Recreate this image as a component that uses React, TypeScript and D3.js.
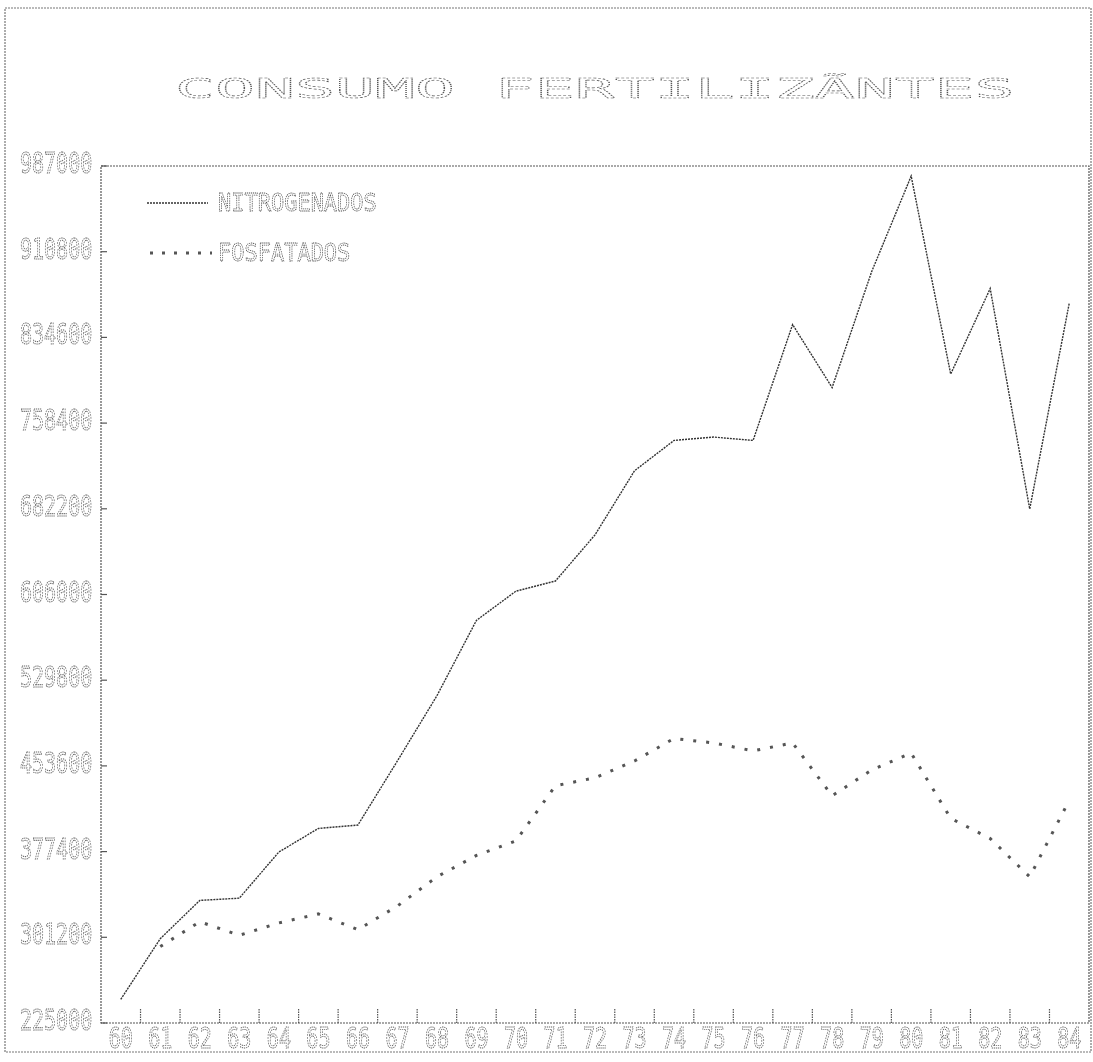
import { useEffect, useRef } from "react";
import * as d3 from "d3";

const years = ["60", "61", "62", "63", "64", "65", "66", "67", "68", "69", "70", "71", "72",
  "73", "74", "75", "76", "77", "78", "79", "80", "81", "82", "83", "84"];

// consumo em toneladas
const nitrogenados = [246000, 300000, 334000, 336000, 377000, 398000, 401000, 458000, 516000,
  583000, 609000, 618000, 659000, 716000, 743000, 746000, 743000, 846000, 790000, 893000,
  978000, 802000, 878000, 682000, 865000];

const fosfatados: (number | null)[] = [null, 293000, 315000, 303000, 314000, 322000, 308000,
  329000, 355000, 374000, 387000, 436000, 443000, 458000, 478000, 474000, 467000, 474000,
  427000, 450000, 465000, 407000, 389000, 355000, 423000];

const yTicks = [225000, 301200, 377400, 453600, 529800, 606000, 682200, 758400, 834600, 910800, 987000];

const title = "CONSUMO FERTILIZÃNTES";
const seriesNames = ["NITROGENADOS", "FOSFATADOS"];

const W = 1093;
const H = 1062;
const FONT = "'DejaVu Sans Mono', monospace";

export default function App() {
  const svgRef = useRef<SVGSVGElement>(null);

  useEffect(() => {
    if (!svgRef.current) return;
    const svg = d3.select(svgRef.current);
    svg.selectAll("*").remove();

    const left = 101;
    const right = 1089;
    const top = 166;
    const bottom = 1023;

    const x = d3.scaleBand<string>().domain(years).range([left, right]).padding(0);
    const y = d3.scaleLinear().domain([225000, 987000]).range([bottom, top]);
    const cx = (d: string) => (x(d) as number) + x.bandwidth() / 2;

    // dotted "printer" text: stretched monospace outline, grayscale AA via group opacity
    const dotText = (
      parent: d3.Selection<SVGGElement, unknown, null, undefined>,
      tx: number, ty: number, sx: number, sy: number, size: number, str: string, color: string
    ) =>
      parent.append("text")
        .attr("transform", `translate(${tx},${ty}) scale(${sx},${sy})`)
        .style("font-family", FONT).style("font-size", `${size}px`)
        .attr("fill", "none").attr("stroke", color).attr("stroke-width", 0.7)
        .attr("stroke-dasharray", "1.2 0.8")
        .text(str);

    // outer frame
    svg.append("rect")
      .attr("x", 5).attr("y", 8).attr("width", 1086).attr("height", 1044)
      .attr("fill", "none").attr("stroke", "#777").attr("stroke-width", 1.2)
      .attr("stroke-dasharray", "2 1");

    const txt = svg.append("g").attr("opacity", 0.99);

    // title
    dotText(txt, 175, 98, 2.46, 1.0, 27, title, "#555").attr("stroke-width", 0.6);

    // plot frame
    svg.append("rect")
      .attr("x", left).attr("y", top).attr("width", right - left).attr("height", bottom - top)
      .attr("fill", "none").attr("stroke", "#555").attr("stroke-width", 1.2)
      .attr("stroke-dasharray", "2 1");

    // y axis ticks + labels
    yTicks.forEach((t) => {
      svg.append("line")
        .attr("x1", left).attr("x2", left + 6).attr("y1", y(t)).attr("y2", y(t))
        .attr("stroke", "#555").attr("stroke-width", 1.2);
      dotText(txt, 20, y(t) + 7, 1, 1.45, 20, String(t), "#666");
    });

    // x axis ticks (band boundaries) + labels
    years.forEach((yr, i) => {
      if (i > 0) {
        const bx = x(yr) as number;
        svg.append("line")
          .attr("x1", bx).attr("x2", bx).attr("y1", bottom).attr("y2", bottom - 14)
          .attr("stroke", "#555").attr("stroke-width", 1.2).attr("stroke-dasharray", "1.5 1");
      }
      dotText(txt, cx(yr) - 12, bottom + 25, 1, 1.4, 20, yr, "#666");
    });

    const line = d3.line<number | null>()
      .defined((d) => d !== null)
      .x((_, i) => cx(years[i]))
      .y((d) => y(d as number));

    svg.append("path")
      .attr("d", line(nitrogenados))
      .attr("fill", "none").attr("stroke", "#333").attr("stroke-width", 1.4)
      .attr("stroke-dasharray", "2 1");

    svg.append("path")
      .attr("d", line(fosfatados))
      .attr("fill", "none").attr("stroke", "#555").attr("stroke-width", 3)
      .attr("stroke-dasharray", "3 10");

    // legend
    svg.append("line")
      .attr("x1", 147).attr("x2", 208).attr("y1", 203).attr("y2", 203)
      .attr("stroke", "#333").attr("stroke-width", 1.4).attr("stroke-dasharray", "2 1");
    svg.append("line")
      .attr("x1", 150).attr("x2", 212).attr("y1", 253).attr("y2", 253)
      .attr("stroke", "#555").attr("stroke-width", 3).attr("stroke-dasharray", "3 9");
    seriesNames.forEach((name, i) => {
      dotText(txt, 218, 211 + i * 50, 1, 1.15, 22, name, "#4a4a4a");
    });
  }, []);

  return (
    <svg
      ref={svgRef}
      width={W}
      height={H}
      style={{ position: "absolute", left: 0, top: 0, background: "#fff" }}
    />
  );
}
